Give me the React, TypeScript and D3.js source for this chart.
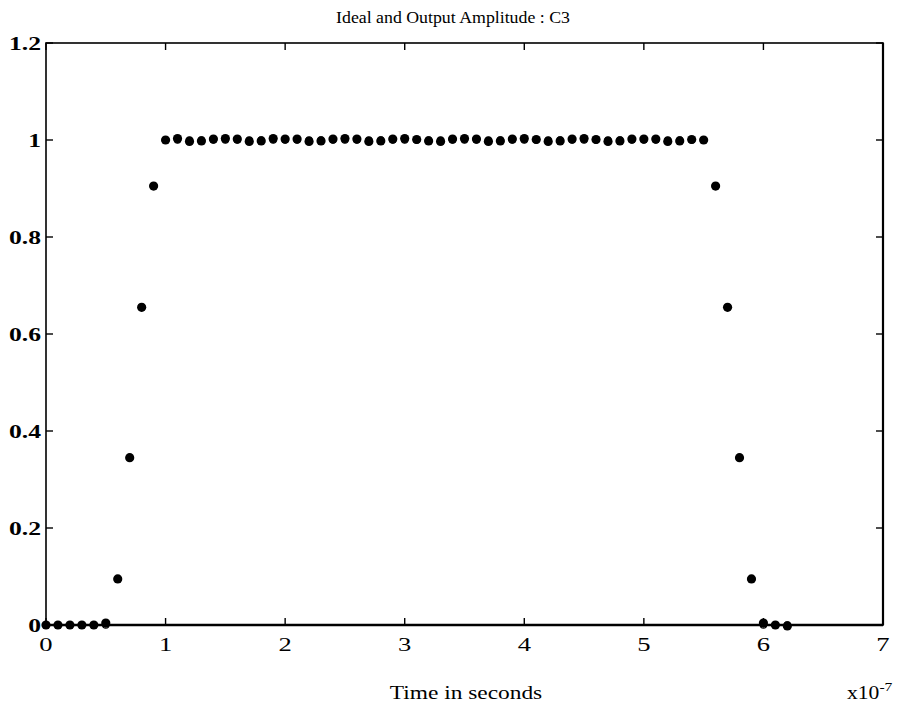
import React from "react";
import * as d3 from "d3";

// time in units of 1e-7 s
const timeE7 = [
  0, 0.1, 0.2, 0.3, 0.4, 0.5, 0.6, 0.7, 0.8, 0.9,
  1.0, 1.1, 1.2, 1.3, 1.4, 1.5, 1.6, 1.7, 1.8, 1.9,
  2.0, 2.1, 2.2, 2.3, 2.4, 2.5, 2.6, 2.7, 2.8, 2.9,
  3.0, 3.1, 3.2, 3.3, 3.4, 3.5, 3.6, 3.7, 3.8, 3.9,
  4.0, 4.1, 4.2, 4.3, 4.4, 4.5, 4.6, 4.7, 4.8, 4.9,
  5.0, 5.1, 5.2, 5.3, 5.4, 5.5, 5.6, 5.7, 5.8, 5.9,
  6.0, 6.1, 6.2,
];

const outputAmp = [
  0, 0, 0, 0, 0, 0.004, 0.095, 0.345, 0.655, 0.905,
  1.0, 1.003, 0.997, 0.998, 1.002, 1.003, 1.002, 0.997, 0.998, 1.003,
  1.002, 1.002, 0.997, 0.998, 1.002, 1.003, 1.002, 0.997, 0.998, 1.002,
  1.003, 1.001, 0.998, 0.997, 1.002, 1.003, 1.002, 0.997, 0.998, 1.002,
  1.003, 1.001, 0.997, 0.998, 1.002, 1.003, 1.001, 0.997, 0.998, 1.002,
  1.002, 1.002, 0.997, 0.998, 1.001, 1.0, 0.905, 0.655, 0.345, 0.095,
  0.004, 0, -0.002,
];

const idealAmp = [
  0, 0, 0, 0, 0, 0, 0.095, 0.345, 0.655, 0.905,
  1, 1, 1, 1, 1, 1, 1, 1, 1, 1,
  1, 1, 1, 1, 1, 1, 1, 1, 1, 1,
  1, 1, 1, 1, 1, 1, 1, 1, 1, 1,
  1, 1, 1, 1, 1, 1, 1, 1, 1, 1,
  1, 1, 1, 1, 1, 1, 0.905, 0.655, 0.345, 0.095,
  0, 0, 0,
];

const xTicks = [0, 1, 2, 3, 4, 5, 6, 7];
const yTicks = [0, 0.2, 0.4, 0.6, 0.8, 1, 1.2];
const yTickLabels = ["0", "0.2", "0.4", "0.6", "0.8", "1", "1.2"];

const titleText = "Ideal and Output Amplitude : C3";
const xLabelText = "Time in seconds";

const FONT = "'Liberation Serif', 'Times New Roman', serif";

function SText(props: {
  x: number;
  y: number;
  sx: number;
  size: number;
  anchor?: string;
  bold?: boolean;
  dy?: string;
  children: React.ReactNode;
}) {
  return (
    <text
      transform={`translate(${props.x},${props.y}) scale(${props.sx},1)`}
      textAnchor={props.anchor || "start"}
      fontFamily={FONT}
      fontSize={props.size}
      fontWeight={props.bold ? "bold" : "normal"}
      dy={props.dy}
      fill="#000"
    >
      {props.children}
    </text>
  );
}

export default function App() {
  const W = 904;
  const H = 709;
  const left = 46, right = 883, top = 43, bottom = 625;
  const x = d3.scaleLinear().domain([0, 7]).range([left, right]);
  const y = d3.scaleLinear().domain([0, 1.2]).range([bottom, top]);
  const tick = 7;

  return (
    <svg
      width={W}
      height={H}
      style={{ position: "absolute", left: 0, top: 0, background: "#fff" }}
    >
      <rect x={0} y={0} width={W} height={H} fill="#fff" />
      {/* frame */}
      <rect
        x={left}
        y={top}
        width={right - left}
        height={bottom - top}
        fill="none"
        stroke="#000"
        strokeWidth={1.6}
      />
      <line x1={left} x2={right} y1={bottom} y2={bottom} stroke="#000" strokeWidth={2.4} />
      <line x1={right} x2={right} y1={top} y2={bottom} stroke="#000" strokeWidth={2.2} />
      {/* x ticks */}
      {xTicks.map((t) => (
        <g key={"xt" + t}>
          <line x1={x(t)} x2={x(t)} y1={bottom} y2={bottom - tick} stroke="#000" strokeWidth={1.4} />
          <line x1={x(t)} x2={x(t)} y1={top} y2={top + tick} stroke="#000" strokeWidth={1.4} />
          <SText x={x(t)} y={651} sx={1.4} size={19} anchor="middle">
            {t}
          </SText>
        </g>
      ))}
      {/* y ticks */}
      {yTicks.map((t, i) => (
        <g key={"yt" + t}>
          <line x1={left} x2={left + tick} y1={y(t)} y2={y(t)} stroke="#000" strokeWidth={1.4} />
          <line x1={right} x2={right - tick} y1={y(t)} y2={y(t)} stroke="#000" strokeWidth={1.4} />
          <SText x={41} y={y(t)} sx={1.35} size={19} anchor="end" bold dy="0.35em">
            {yTickLabels[i]}
          </SText>
        </g>
      ))}
      {/* ideal markers (open circles) */}
      {timeE7.map((t, i) => (
        <circle
          key={"id" + i}
          cx={x(t)}
          cy={y(idealAmp[i])}
          r={3.2}
          fill="#fff"
          stroke="#000"
          strokeWidth={1.2}
        />
      ))}
      {/* output markers (filled) */}
      {timeE7.map((t, i) => (
        <circle key={"op" + i} cx={x(t)} cy={y(outputAmp[i])} r={4.6} fill="#000" />
      ))}
      {/* title */}
      <SText x={453} y={23} sx={1.08} size={16.5} anchor="middle">
        {titleText}
      </SText>
      {/* x label */}
      <SText x={466} y={699} sx={1.3} size={18} anchor="middle">
        {xLabelText}
      </SText>
      <text
        transform="translate(847,699) scale(1.2,1)"
        fontFamily={FONT}
        fontSize={18}
        fill="#000"
      >
        x10
        <tspan dy={-8} fontSize={13}>
          -7
        </tspan>
      </text>
    </svg>
  );
}
